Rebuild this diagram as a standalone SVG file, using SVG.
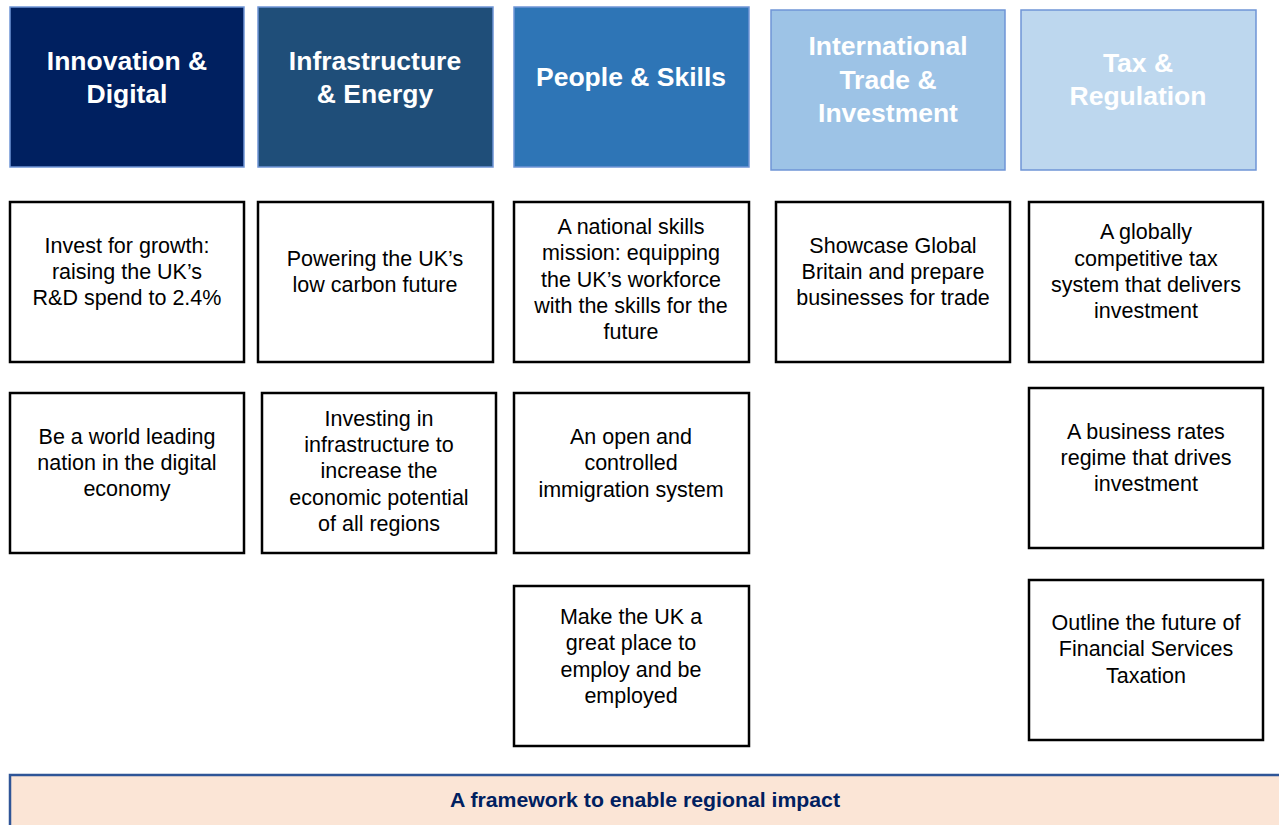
<svg xmlns="http://www.w3.org/2000/svg" width="1279" height="825" viewBox="0 0 1279 825">
  <style>
    .hdr { stroke: #6F95D6; stroke-width: 1.5; }
    .hdr-t { font-family: "Liberation Sans", Arial, sans-serif; font-weight: bold; font-size: 26.5px; fill: #FFFFFF; text-anchor: middle; }
    .card { fill: #FFFFFF; stroke: #000000; stroke-width: 2.5; }
    .card-t { font-family: "Liberation Sans", Arial, sans-serif; font-size: 21.5px; fill: #000000; text-anchor: middle; }
    .banner { fill: #FBE5D6; stroke: #2F5597; stroke-width: 2.5; }
    .banner-t { font-family: "Liberation Sans", Arial, sans-serif; font-weight: bold; font-size: 20px; fill: #002060; text-anchor: middle; }
  </style>

  <!-- Pillar headers -->
  <g id="hdr-innovation">
    <rect class="hdr" x="10" y="7" width="234" height="160" fill="#002060"/>
    <text class="hdr-t" x="127" y="70">Innovation &amp;</text>
    <text class="hdr-t" x="127" y="103">Digital</text>
  </g>
  <g id="hdr-infrastructure">
    <rect class="hdr" x="258" y="7" width="235" height="160" fill="#1F4E79"/>
    <text class="hdr-t" x="375" y="70">Infrastructure</text>
    <text class="hdr-t" x="375" y="103">&amp; Energy</text>
  </g>
  <g id="hdr-people">
    <rect class="hdr" x="514" y="7" width="235" height="160" fill="#2E75B6"/>
    <text class="hdr-t" x="631" y="86">People &amp; Skills</text>
  </g>
  <g id="hdr-trade">
    <rect class="hdr" x="771" y="10" width="234" height="160" fill="#9DC3E6"/>
    <text class="hdr-t" x="888" y="55">International</text>
    <text class="hdr-t" x="888" y="89">Trade &amp;</text>
    <text class="hdr-t" x="888" y="122">Investment</text>
  </g>
  <g id="hdr-tax">
    <rect class="hdr" x="1021" y="10" width="235" height="160" fill="#BDD7EE"/>
    <text class="hdr-t" x="1138" y="72">Tax &amp;</text>
    <text class="hdr-t" x="1138" y="105">Regulation</text>
  </g>

  <!-- Innovation & Digital priorities -->
  <g id="card-rd">
    <rect class="card" x="10" y="202" width="234" height="160"/>
    <text class="card-t" x="127" y="253">Invest for growth:</text>
    <text class="card-t" x="127" y="279">raising the UK’s</text>
    <text class="card-t" x="127" y="305">R&amp;D spend to 2.4%</text>
  </g>
  <g id="card-digital">
    <rect class="card" x="10" y="393" width="234" height="160"/>
    <text class="card-t" x="127" y="444">Be a world leading</text>
    <text class="card-t" x="127" y="470">nation in the digital</text>
    <text class="card-t" x="127" y="496">economy</text>
  </g>

  <!-- Infrastructure & Energy priorities -->
  <g id="card-carbon">
    <rect class="card" x="258" y="202" width="235" height="160"/>
    <text class="card-t" x="375" y="266">Powering the UK’s</text>
    <text class="card-t" x="375" y="292">low carbon future</text>
  </g>
  <g id="card-regions">
    <rect class="card" x="262" y="393" width="234" height="160"/>
    <text class="card-t" x="379" y="426">Investing in</text>
    <text class="card-t" x="379" y="452">infrastructure to</text>
    <text class="card-t" x="379" y="478">increase the</text>
    <text class="card-t" x="379" y="505">economic potential</text>
    <text class="card-t" x="379" y="531">of all regions</text>
  </g>

  <!-- People & Skills priorities -->
  <g id="card-skills">
    <rect class="card" x="514" y="202" width="235" height="160"/>
    <text class="card-t" x="631" y="234">A national skills</text>
    <text class="card-t" x="631" y="260">mission: equipping</text>
    <text class="card-t" x="631" y="287">the UK’s workforce</text>
    <text class="card-t" x="631" y="313">with the skills for the</text>
    <text class="card-t" x="631" y="339">future</text>
  </g>
  <g id="card-immigration">
    <rect class="card" x="514" y="393" width="235" height="160"/>
    <text class="card-t" x="631" y="444">An open and</text>
    <text class="card-t" x="631" y="470">controlled</text>
    <text class="card-t" x="631" y="497">immigration system</text>
  </g>
  <g id="card-employ">
    <rect class="card" x="514" y="586" width="235" height="160"/>
    <text class="card-t" x="631" y="624">Make the UK a</text>
    <text class="card-t" x="631" y="650">great place to</text>
    <text class="card-t" x="631" y="677">employ and be</text>
    <text class="card-t" x="631" y="703">employed</text>
  </g>

  <!-- International Trade & Investment priorities -->
  <g id="card-global">
    <rect class="card" x="776" y="202" width="234" height="160"/>
    <text class="card-t" x="893" y="253">Showcase Global</text>
    <text class="card-t" x="893" y="279">Britain and prepare</text>
    <text class="card-t" x="893" y="305">businesses for trade</text>
  </g>

  <!-- Tax & Regulation priorities -->
  <g id="card-taxsystem">
    <rect class="card" x="1029" y="202" width="234" height="160"/>
    <text class="card-t" x="1146" y="239">A globally</text>
    <text class="card-t" x="1146" y="266">competitive tax</text>
    <text class="card-t" x="1146" y="292">system that delivers</text>
    <text class="card-t" x="1146" y="318">investment</text>
  </g>
  <g id="card-rates">
    <rect class="card" x="1029" y="388" width="234" height="160"/>
    <text class="card-t" x="1146" y="439">A business rates</text>
    <text class="card-t" x="1146" y="465">regime that drives</text>
    <text class="card-t" x="1146" y="491">investment</text>
  </g>
  <g id="card-finserv">
    <rect class="card" x="1029" y="580" width="234" height="160"/>
    <text class="card-t" x="1146" y="630">Outline the future of</text>
    <text class="card-t" x="1146" y="656">Financial Services</text>
    <text class="card-t" x="1146" y="683">Taxation</text>
  </g>

  <!-- Cross-cutting foundation -->
  <g id="banner-regional">
    <rect class="banner" x="10" y="775" width="1280" height="60"/>
    <text class="banner-t" x="645" y="807" textLength="390" lengthAdjust="spacingAndGlyphs">A framework to enable regional impact</text>
  </g>

  <g id="connectors"/>
</svg>
